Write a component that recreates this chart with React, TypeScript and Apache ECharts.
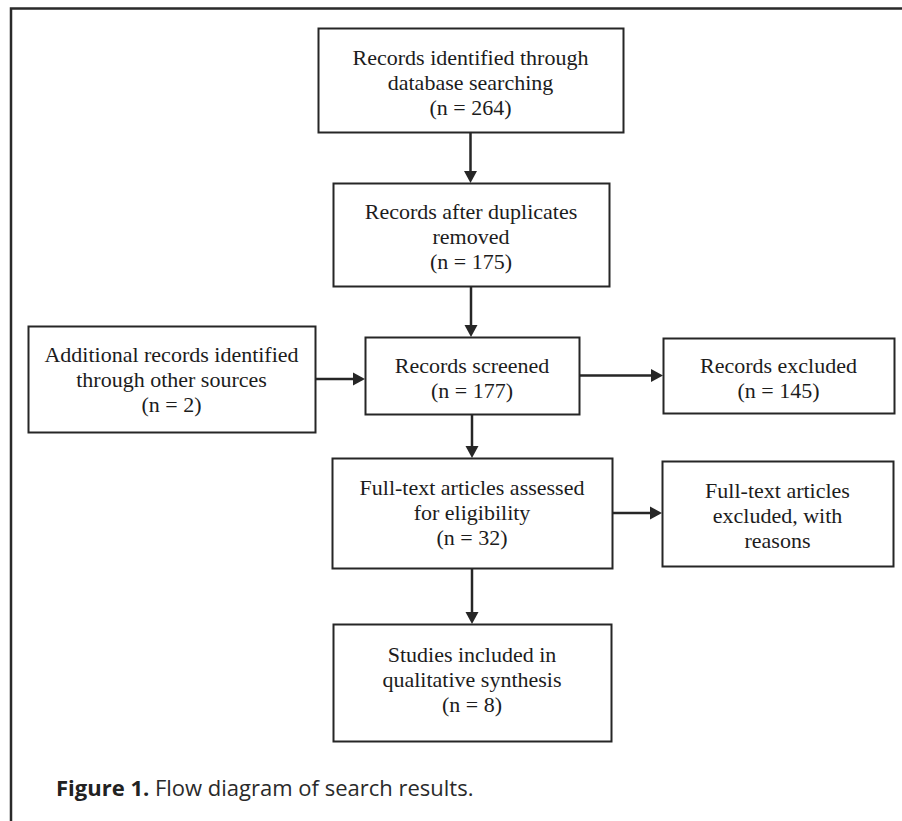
import React, { useEffect, useRef } from "react";
import * as echarts from "echarts";

// ---- Data ----
const stageLabels: string[] = [
  "Records identified through\ndatabase searching",
  "Records after duplicates\nremoved",
  "Additional records identified\nthrough other sources",
  "Records screened",
  "Records excluded",
  "Full-text articles assessed\nfor eligibility",
  "Full-text articles\nexcluded, with\nreasons",
  "Studies included in\nqualitative synthesis",
];
const stageCounts: (number | null)[] = [264, 175, 2, 177, 145, 32, null, 8];
// [from, to, direction]
const flows: [number, number, "down" | "right"][] = [
  [0, 1, "down"],
  [1, 3, "down"],
  [2, 3, "right"],
  [3, 4, "right"],
  [3, 5, "down"],
  [5, 6, "right"],
  [5, 7, "down"],
];
const captionBold = "Figure 1.";
const captionText = " Flow diagram of search results.";

// ---- Layout (positions / sizes) ----
const boxRects: [number, number, number, number][] = [
  [318, 28, 305, 104],
  [333, 183, 276, 103],
  [28, 326, 287, 106],
  [365, 337, 214, 77],
  [663, 338, 231, 75],
  [332, 458, 280, 110],
  [662, 461, 231, 105],
  [333, 624, 278, 117],
];
const textCenterY: number[] = [82, 236, 379, 378, 378, 512, 515, 679];

const LINE = "#262626";
const TEXT = "#1c1c1c";

export default function App() {
  const ref = useRef<HTMLDivElement>(null);
  useEffect(() => {
    document.body.style.margin = "0";
    if (!ref.current) return;
    const chart = echarts.init(ref.current, null, { renderer: "svg" });
    const elements: any[] = [];

    // frame
    elements.push({
      type: "polyline",
      shape: { points: [[11, 821], [11, 8.5], [902, 8.5]] },
      style: { stroke: "#2a2a2a", lineWidth: 2.5, fill: null },
    });

    boxRects.forEach(([x, y, w, h], i) => {
      elements.push({
        type: "rect",
        shape: { x: x + 0.5, y: y + 0.5, width: w, height: h },
        style: { stroke: LINE, lineWidth: 2, fill: "#fff" },
      });
      const cnt = stageCounts[i];
      const txt = stageLabels[i] + (cnt !== null ? `\n(n = ${cnt})` : "");
      elements.push({
        type: "text",
        x: x + w / 2,
        y: textCenterY[i],
        style: {
          text: txt,
          fill: TEXT,
          font: '22px "Liberation Serif", "Times New Roman", serif',
          lineHeight: 25,
          align: "center",
          verticalAlign: "middle",
        },
      });
    });

    const AH = 12; // arrowhead length
    const AW = 6.5; // half width
    flows.forEach(([a, b, dir]) => {
      const [ax, ay, aw, ah] = boxRects[a];
      const [bx, by] = boxRects[b];
      if (dir === "down") {
        const x = ax + aw / 2;
        const y1 = ay + ah;
        const y2 = by;
        elements.push({
          type: "line",
          shape: { x1: x, y1: y1, x2: x, y2: y2 - AH + 1 },
          style: { stroke: LINE, lineWidth: 2.5 },
        });
        elements.push({
          type: "polygon",
          shape: { points: [[x - AW, y2 - AH], [x + AW, y2 - AH], [x, y2]] },
          style: { fill: LINE },
        });
      } else {
        const y = ay + ah / 2;
        const x1 = ax + aw;
        const x2 = bx;
        elements.push({
          type: "line",
          shape: { x1: x1, y1: y, x2: x2 - AH + 1, y2: y },
          style: { stroke: LINE, lineWidth: 2.5 },
        });
        elements.push({
          type: "polygon",
          shape: { points: [[x2 - AH, y - AW], [x2 - AH, y + AW], [x2, y]] },
          style: { fill: LINE },
        });
      }
    });

    // caption
    elements.push({
      type: "text",
      x: 56,
      y: 787,
      style: {
        text: `{b|${captionBold}}{r|${captionText}}`,
        verticalAlign: "middle",
        align: "left",
        rich: {
          b: { font: 'bold 22px "Open Sans", sans-serif', fill: "#222" },
          r: { font: '22px "Open Sans", sans-serif', fill: "#2a2a2a" },
        },
      },
    });

    chart.setOption({
      animation: false,
      backgroundColor: "#fff",
      graphic: { elements },
    });
    return () => chart.dispose();
  }, []);
  return <div ref={ref} style={{ width: 902, height: 821 }} />;
}
